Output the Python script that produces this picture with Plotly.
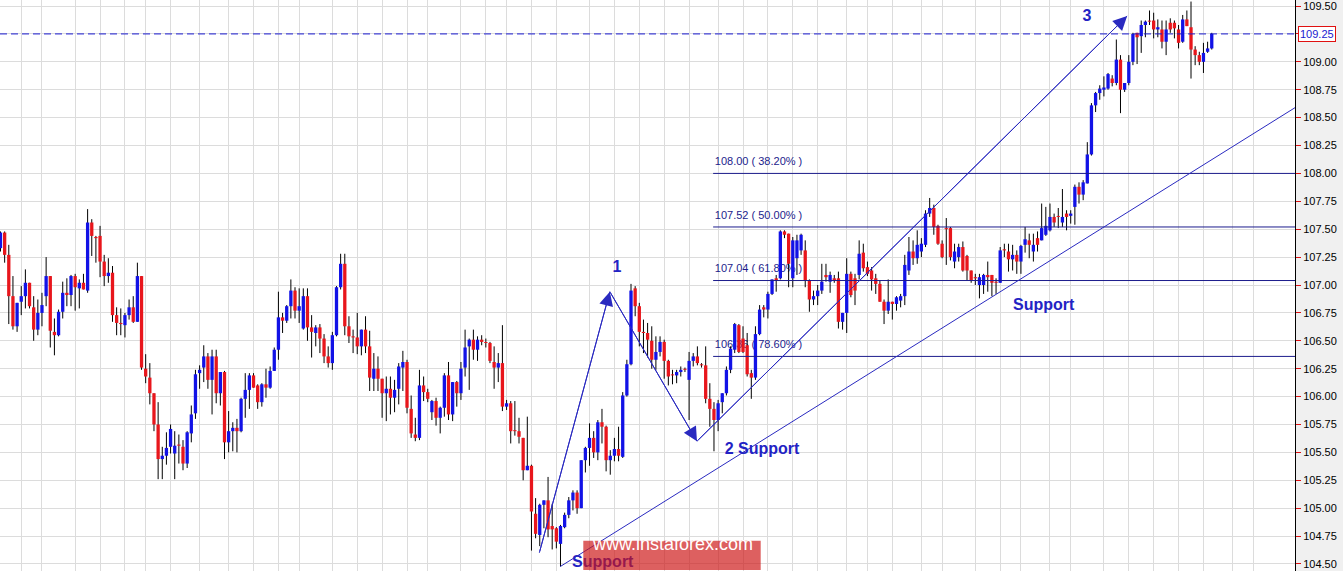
import plotly.graph_objects as go

# ---------------- data (H4 candles) ----------------
opens = [107.33,107.47,107.27,106.90,106.63,106.85,106.90,107.02,106.80,106.60,106.75,106.90,107.08,106.58,106.55,106.76,106.93,106.91,107.08,106.97,
         107.02,106.95,107.56,107.43,107.44,107.21,107.08,107.11,106.73,106.66,106.64,106.73,106.80,106.67,107.08,106.25,106.17,106.03,105.75,105.44,
         105.47,105.55,105.49,105.57,105.55,105.40,105.67,105.85,106.21,106.26,106.36,106.15,106.36,106.03,106.22,105.59,105.69,105.72,105.69,105.98,
         106.06,106.19,106.10,105.95,106.11,106.08,106.23,106.42,106.71,106.68,106.81,106.95,106.77,106.61,106.90,106.62,106.57,106.62,106.52,106.36,
         106.30,106.55,106.98,107.19,106.63,106.54,106.53,106.45,106.60,106.45,106.16,106.25,106.16,106.03,106.07,105.99,106.07,106.26,106.31,105.89,
         105.66,105.63,106.10,106.04,105.86,105.96,105.81,105.90,106.19,105.84,106.13,106.03,106.26,106.45,106.51,106.42,106.51,106.48,106.48,106.31,
         106.26,106.30,105.91,105.94,105.69,105.69,105.63,105.34,105.38,104.95,104.76,105.03,105.07,104.84,104.82,104.68,104.83,104.94,105.07,105.14,
         105.00,105.43,105.54,105.63,105.50,105.77,105.73,105.43,105.47,105.53,105.46,106.01,106.29,106.97,106.81,106.58,106.57,106.50,106.33,106.40,
         106.49,106.32,106.19,106.19,106.22,106.24,106.15,106.32,106.36,106.28,106.28,105.98,105.89,105.79,105.95,106.03,106.24,106.42,106.64,106.52,
         106.46,106.21,106.17,106.56,106.80,106.78,106.92,107.06,107.06,107.48,107.46,107.06,107.24,107.31,107.31,107.04,106.87,106.90,106.95,107.09,
         107.03,107.06,107.06,106.67,106.75,107.10,107.06,107.09,107.29,107.16,107.13,107.06,107.01,106.85,106.77,106.85,106.83,106.86,106.90,107.13,
         107.30,107.24,107.30,107.36,107.64,107.69,107.53,107.37,107.51,107.51,107.21,107.25,107.34,107.26,107.13,107.07,107.00,107.00,107.09,107.09,
         107.02,107.02,107.32,107.30,107.23,107.27,107.21,107.36,107.40,107.30,107.42,107.40,107.45,107.49,107.61,107.61,107.56,107.64,107.62,107.70,
         107.88,107.81,107.91,108.17,108.61,108.72,108.75,108.76,108.85,108.81,109.02,108.75,108.81,109.00,109.26,109.23,109.33,109.36,109.37,109.29,
         109.29,109.18,109.35,109.35,109.29,109.18,109.38,109.31,109.11,109.06,109.00,109.09,109.12]
highs = [107.48,107.48,107.36,107.08,106.84,106.99,107.14,107.02,106.90,106.87,106.93,107.25,107.08,106.70,106.78,107.03,107.06,107.09,107.10,107.05,
         107.10,107.68,107.59,107.44,107.53,107.27,107.24,107.17,106.80,106.79,106.75,106.87,106.90,107.20,107.08,106.38,106.30,106.03,105.95,105.55,
         105.68,105.75,105.69,105.66,105.61,105.69,105.92,106.24,106.28,106.46,106.39,106.42,106.42,106.22,106.23,105.87,105.77,105.80,105.99,106.21,
         106.21,106.21,106.11,106.12,106.25,106.27,106.44,106.94,106.75,106.82,107.05,106.98,106.97,106.97,106.97,106.73,106.64,106.65,106.56,106.45,
         106.58,106.99,107.28,107.28,106.72,106.60,106.75,106.60,106.72,106.59,106.39,106.36,106.16,106.18,106.18,106.15,106.30,106.41,106.33,106.01,
         105.81,106.24,106.18,106.07,105.97,105.99,105.91,106.21,106.31,106.13,106.14,106.31,106.60,106.52,106.60,106.54,106.55,106.52,106.49,106.45,
         106.39,106.64,105.97,105.96,105.96,105.81,105.63,105.82,105.39,105.09,105.04,105.07,105.28,105.04,104.83,104.85,104.96,105.10,105.16,105.16,
         105.43,105.55,105.76,105.69,105.79,105.89,105.74,105.52,105.63,105.73,106.04,106.33,107.01,106.99,106.84,106.69,106.66,106.63,106.54,106.54,
         106.51,106.33,106.24,106.24,106.27,106.26,106.40,106.39,106.45,106.30,106.45,106.12,105.95,105.97,106.03,106.27,106.45,106.66,106.65,106.63,
         106.57,106.24,106.63,106.82,106.82,106.94,107.05,107.09,107.49,107.49,107.46,107.43,107.45,107.46,107.40,107.05,106.95,107.00,107.19,107.19,
         107.12,107.09,107.12,106.75,107.24,107.12,107.10,107.40,107.37,107.21,107.16,107.10,107.04,106.87,107.05,106.85,106.90,106.92,107.27,107.43,
         107.40,107.49,107.42,107.67,107.78,107.72,107.54,107.40,107.60,107.52,107.37,107.37,107.39,107.27,107.13,107.10,107.10,107.10,107.21,107.09,
         107.06,107.34,107.37,107.37,107.36,107.31,107.36,107.52,107.46,107.46,107.48,107.73,107.70,107.73,107.64,107.69,107.86,107.67,107.67,107.90,
         107.92,107.94,108.28,108.63,108.73,108.79,108.87,108.90,108.88,109.20,109.06,108.81,109.06,109.26,109.26,109.37,109.37,109.46,109.44,109.38,
         109.37,109.37,109.39,109.37,109.33,109.42,109.46,109.54,109.14,109.09,109.17,109.18,109.26]
lows = [107.30,107.20,106.65,106.60,106.58,106.73,106.79,106.79,106.50,106.55,106.63,106.81,106.44,106.37,106.54,106.70,106.81,106.81,106.77,106.79,
        106.96,106.93,107.26,107.20,107.07,106.99,107.02,106.67,106.55,106.55,106.53,106.69,106.66,106.67,106.24,106.12,105.93,105.69,105.26,105.26,
        105.39,105.49,105.26,105.40,105.34,105.36,105.59,105.80,106.07,106.13,106.07,105.84,105.94,105.92,105.44,105.50,105.51,105.50,105.68,105.81,
        105.89,106.08,105.89,105.91,105.99,106.07,106.23,106.33,106.57,106.66,106.70,106.70,106.66,106.60,106.50,106.35,106.45,106.39,106.30,106.26,
        106.24,106.54,106.96,106.55,106.48,106.39,106.38,106.37,106.39,106.05,106.05,106.05,105.81,105.78,105.84,105.86,105.93,106.05,105.85,105.63,
        105.60,105.61,105.96,105.95,105.79,105.74,105.67,105.82,105.79,105.78,105.91,105.97,106.18,106.06,106.33,106.32,106.46,106.44,106.30,106.07,
        106.13,105.87,105.88,105.58,105.65,105.58,105.25,105.34,104.62,104.73,104.66,104.82,104.74,104.63,104.64,104.48,104.82,104.91,104.98,104.95,
        105.00,105.32,105.38,105.45,105.43,105.58,105.33,105.30,105.42,105.42,105.45,106.00,106.28,106.72,106.45,106.39,106.35,106.25,106.24,106.36,
        106.16,106.10,106.11,106.12,106.18,106.22,105.79,106.27,106.28,106.26,105.94,105.73,105.51,105.69,105.85,106.01,106.21,106.39,106.39,106.39,
        106.18,105.98,106.15,106.55,106.71,106.70,106.91,106.94,107.05,107.42,106.98,106.98,107.09,107.27,106.98,106.76,106.82,106.82,106.92,107.03,
        106.93,107.02,106.61,106.60,106.57,106.89,106.82,107.05,107.12,107.08,106.95,106.92,106.85,106.65,106.74,106.69,106.77,106.80,106.82,107.09,
        107.18,107.19,107.25,107.34,107.61,107.45,107.36,107.24,107.18,107.22,107.15,107.21,107.12,107.04,107.02,107.00,106.88,106.92,106.94,106.90,
        106.92,107.02,107.25,107.12,107.13,107.10,107.10,107.29,107.24,107.21,107.30,107.40,107.44,107.48,107.52,107.51,107.52,107.49,107.55,107.54,
        107.73,107.76,107.91,108.16,108.55,108.66,108.69,108.75,108.78,108.79,108.54,108.73,108.79,108.97,108.98,109.08,109.22,109.33,109.21,109.22,
        109.12,109.06,109.26,109.21,109.12,109.17,109.32,108.85,108.97,108.97,108.90,109.08,109.11]
closes = [107.47,107.27,106.90,106.63,106.84,106.90,107.02,106.81,106.60,106.75,106.82,107.08,106.59,106.55,106.76,106.93,106.91,107.08,106.98,107.02,
          106.96,107.56,107.44,107.42,107.21,107.08,107.11,106.73,106.66,106.65,106.73,106.80,106.67,107.08,106.26,106.18,106.03,105.75,105.44,105.47,
          105.54,105.71,105.56,105.56,105.40,105.68,105.84,106.20,106.24,106.36,106.15,106.36,106.03,106.22,105.59,105.69,105.72,105.69,105.98,106.06,
          106.19,106.08,105.95,106.11,106.08,106.23,106.42,106.71,106.68,106.81,106.95,106.77,106.81,106.90,106.62,106.58,106.62,106.52,106.36,106.30,
          106.55,106.98,107.19,106.63,106.54,106.53,106.45,106.60,106.45,106.17,106.25,106.16,106.03,106.07,105.99,106.06,106.27,106.31,105.90,105.67,
          105.63,106.10,106.04,105.98,105.96,105.81,105.90,106.19,105.84,106.13,106.03,106.25,106.44,106.51,106.42,106.51,106.49,106.48,106.32,106.26,
          106.30,105.91,105.94,105.69,105.69,105.64,105.34,105.38,104.97,104.77,105.03,105.07,104.81,104.81,104.70,104.84,104.94,105.07,105.14,105.00,
          105.43,105.54,105.63,105.50,105.77,105.73,105.43,105.47,105.53,105.47,106.01,106.29,106.95,106.81,106.58,106.57,106.51,106.33,106.40,106.49,
          106.32,106.18,106.19,106.22,106.24,106.24,106.32,106.36,106.30,106.28,105.98,105.89,105.79,105.94,106.03,106.24,106.43,106.65,106.40,106.40,
          106.20,106.17,106.56,106.78,106.78,106.92,107.05,107.04,107.48,107.45,107.19,107.40,107.40,107.45,107.04,106.87,106.90,106.95,107.03,107.07,
          107.09,107.04,106.67,106.75,107.10,106.91,106.95,107.28,107.15,107.10,107.05,107.01,106.85,106.77,106.85,106.83,106.89,106.90,107.18,107.30,
          107.24,107.36,107.37,107.64,107.69,107.52,107.37,107.25,107.50,107.25,107.30,107.34,107.13,107.13,107.04,107.06,107.07,107.09,107.07,107.02,
          107.02,107.31,107.31,107.23,107.27,107.21,107.35,107.41,107.36,107.36,107.36,107.51,107.53,107.61,107.56,107.61,107.61,107.61,107.64,107.88,
          107.81,107.92,108.17,108.61,108.72,108.76,108.77,108.89,108.81,109.02,108.75,108.81,109.00,109.25,109.22,109.33,109.36,109.36,109.29,109.31,
          109.18,109.29,109.29,109.30,109.17,109.38,109.32,109.11,109.06,109.00,109.08,109.12,109.25]

y_ticks = [104.50,104.75,105.00,105.25,105.50,105.75,106.00,106.25,106.50,106.75,107.00,107.25,107.50,107.75,
           108.00,108.25,108.50,108.75,109.00,109.25,109.50]
# 109.25 is shown by the current-price tag instead of a plain tick label
y_tick_labels = ["104.50","104.75","105.00","105.25","105.50","105.75","106.00","106.25","106.50","106.75","107.00",
                 "107.25","107.50","107.75","108.00","108.25","108.50","108.75","109.00","","109.50"]
# vertical grid (day boundaries) in candle-index units
grid_x = [5,10,18,24,30,35,41,48,55,61,67,72,80,86,92,98,103,111,117,122,128,134,142,148,154,160,166,173,
          179,185,191,197,204,209,215,222,227,235,241,246,253,258,266,272,278,284,290,297,302]

fib_levels = [108.00, 107.52, 107.04, 106.36]
fib_pcts = ["38.20%", "50.00%", "61.80%", "78.60%"]
last_price = 109.25

# wave pivots (candle index, price) and support line anchors
wave_x = [129.9, 146.9, 167.9, 271.6]
wave_y = [104.60, 106.94, 105.60, 109.41]
support_x = [134.9, 313.1]
support_y = [104.476, 108.613]

label_text = ["<b>1</b>", "<b>2 Support</b>", "<b>3</b>", "<b>Support</b>", "<b>Support</b>"]
label_x = [148.6, 174.6, 261.9, 244.1, 137.8]
label_y = [107.15, 105.52, 109.40, 106.81, 104.51]
label_pos = ["middle center", "middle right", "middle center", "middle right", "middle right"]

# ---------------- styling ----------------
RED = "#e8161c"
BLUE = "#1212e6"
LINE_BLUE = "#2a2ac0"
FIB_BLUE = "#1c1c8c"
TXT_BLUE = "#2323c4"
FONT = "Arial, 'Liberation Sans', sans-serif"
X_RANGE = [-0.12, 312.07]
Y_RANGE = [104.437, 109.554]
MIN_BODY = 0.009

n = len(opens)
xs = list(range(n))

wick_x, wick_y = [], []
up_x, up_y, dn_x, dn_y = [], [], [], []
for i in xs:
    o, h, l, c = opens[i], highs[i], lows[i], closes[i]
    wick_x += [i, i, None]
    wick_y += [min(l, o, c), max(h, o, c), None]
    lo_b = min(o, c)
    hi_b = max(max(o, c), lo_b + MIN_BODY)
    if c > o:
        up_x += [i, i, None]
        up_y += [lo_b, hi_b, None]
    else:
        dn_x += [i, i, None]
        dn_y += [lo_b, hi_b, None]

fig = go.Figure()

# fib level labels (drawn first, under the candles)
fig.add_trace(go.Scatter(
    x=[172.2] * len(fib_levels),
    y=[lv + 0.1 for lv in fib_levels],
    text=[f"{lv:.2f} ( {p} )" for lv, p in zip(fib_levels, fib_pcts)],
    mode="text", textposition="middle right",
    textfont=dict(family=FONT, size=11, color=FIB_BLUE),
    hoverinfo="skip", showlegend=False, cliponaxis=False))

# wicks
fig.add_trace(go.Scatter(x=wick_x, y=wick_y, mode="lines",
                         line=dict(color="black", width=1),
                         hoverinfo="skip", showlegend=False))
# bodies
fig.add_trace(go.Scatter(x=up_x, y=up_y, mode="lines", line=dict(color=BLUE, width=3.3),
                         hoverinfo="skip", showlegend=False))
fig.add_trace(go.Scatter(x=dn_x, y=dn_y, mode="lines", line=dict(color=RED, width=3.3),
                         hoverinfo="skip", showlegend=False))

fig.add_trace(go.Scatter(
    x=label_x, y=label_y, text=label_text, mode="text", textposition=label_pos,
    textfont=dict(family=FONT, size=16, color=TXT_BLUE),
    hoverinfo="skip", showlegend=False, cliponaxis=False))

shapes = []
for lv in fib_levels:
    shapes.append(dict(type="line", xref="x", yref="y", x0=171.8, x1=X_RANGE[1], y0=lv, y1=lv,
                       line=dict(color=FIB_BLUE, width=1)))
shapes.append(dict(type="line", xref="paper", yref="y", x0=0, x1=1, y0=last_price, y1=last_price,
                   line=dict(color="#1a1ad0", width=1, dash="7px,4px")))
shapes.append(dict(type="line", xref="x", yref="y", x0=support_x[0], x1=support_x[1],
                   y0=support_y[0], y1=support_y[1], line=dict(color=LINE_BLUE, width=1)))
for k in range(len(wave_x) - 1):
    shapes.append(dict(type="line", xref="x", yref="y", x0=wave_x[k], x1=wave_x[k + 1],
                       y0=wave_y[k], y1=wave_y[k + 1], line=dict(color=LINE_BLUE, width=1)))
# watermark box
shapes.append(dict(type="rect", xref="paper", yref="paper", x0=583.3 / 1295, x1=760.7 / 1295,
                   y0=1 / 571, y1=30.3 / 571, fillcolor="rgba(205,20,20,0.68)", line=dict(width=0),
                   layer="above"))

annotations = []
for k in range(len(wave_x) - 1):
    annotations.append(dict(x=wave_x[k + 1], y=wave_y[k + 1], ax=wave_x[k], ay=wave_y[k],
                            xref="x", yref="y", axref="x", ayref="y", text="", showarrow=True,
                            arrowhead=2, arrowsize=2.8, arrowwidth=1, arrowcolor=LINE_BLUE))
annotations.append(dict(xref="paper", yref="paper", x=672 / 1295, y=15.5 / 571,
                        text="www.instaforex.com", showarrow=False,
                        font=dict(family=FONT, size=18, color="white")))
annotations.append(dict(xref="paper", yref="y", x=1, y=last_price, xanchor="left", xshift=3,
                        text="109.25", showarrow=False, bgcolor="white", bordercolor="#e01010",
                        borderwidth=1, borderpad=1, font=dict(family=FONT, size=11, color="#1a1ad0")))

fig.update_layout(
    width=1343, height=571,
    margin=dict(l=0, r=48, t=0, b=0),
    paper_bgcolor="#f0f0f0", plot_bgcolor="white",
    showlegend=False,
    shapes=shapes, annotations=annotations,
    xaxis=dict(range=X_RANGE, tickvals=grid_x, showticklabels=False, ticks="",
               showgrid=True, gridcolor="#dcdcdc", gridwidth=1, zeroline=False, showline=False,
               fixedrange=True),
    yaxis=dict(range=Y_RANGE, side="right", tickvals=y_ticks, ticktext=y_tick_labels,
               showgrid=True, gridcolor="#dcdcdc", gridwidth=1, zeroline=False,
               ticks="outside", ticklen=5, tickwidth=1, tickcolor="#e01010",
               showline=True, linecolor="black", linewidth=1, automargin=False,
               ticklabeloverflow="allow",
               tickfont=dict(family=FONT, size=11, color="black"), fixedrange=True),
)

fig.write_html("out.html", config={"displayModeBar": False},
               post_script="document.body.style.margin='0';document.body.style.overflow='hidden';")
